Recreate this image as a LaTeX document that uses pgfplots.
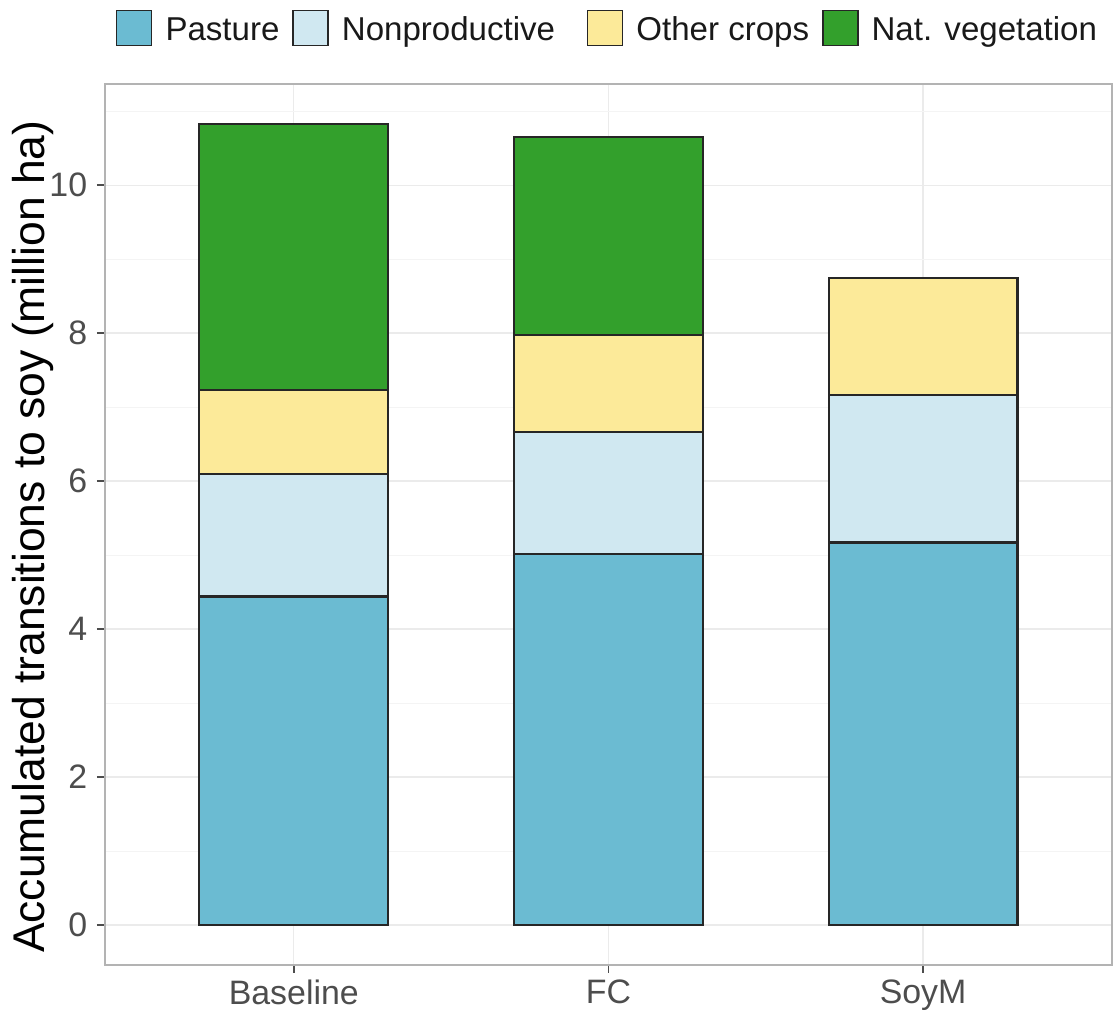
\documentclass[border=0pt]{standalone}
\usepackage{pgfplots}
\pgfplotsset{compat=1.18}
\usepackage{fontspec}
\setmainfont{Liberation Sans}
\definecolor{pasture}{HTML}{6BBBD2}
\definecolor{nonprod}{HTML}{D0E8F1}
\definecolor{othercrops}{HTML}{FCEA99}
\definecolor{natveg}{HTML}{33A02C}
\definecolor{gridc}{HTML}{EBEBEB}
\definecolor{gridm}{HTML}{F4F4F4}
\definecolor{framec}{HTML}{B3B3B3}
\definecolor{tickc}{HTML}{4D4D4D}
\begin{document}
\begin{tikzpicture}
\path (-37.8pt,-15.5pt) rectangle (364.7pt,347.4pt);
\begin{axis}[
  at={(0,0)}, anchor=south west,
  scale only axis, width=362.5pt, height=317.2pt,
  xmin=0.4, xmax=3.6, ymin=-0.54, ymax=11.37,
  ybar stacked, bar width=0.6,
  xtick={1,2,3}, xticklabels={Baseline,FC,SoyM},
  ytick={0,2,4,6,8,10}, minor ytick={1,3,5,7,9,11},
  grid=both,
  major grid style={color=gridc, line width=0.5pt},
  minor grid style={color=gridm, line width=0.3pt},
  axis line style={color=framec, line width=0.8pt},
  tick pos=left, tick align=outside,
  major tick length=2.9pt, minor tick length=0pt,
  major tick style={color=tickc, line width=0.6pt},
  /pgf/number format/assume math mode=true,
  ticklabel style={font=\fontsize{12.2}{14}\selectfont, text=tickc},
  xticklabel style={yshift=1pt},
  ylabel={Accumulated transitions to soy (million ha)},
  ylabel style={at={(axis description cs:-0.0715,0.486)}, anchor=center, font=\fontsize{16}{19}\selectfont, text=black},
  legend style={at={(axis description cs:0.498,1.061)}, anchor=center, draw=none, fill=none,
    legend columns=4, font=\fontsize{11.9}{14}\selectfont, text=black!90,
    nodes={inner xsep=0pt},
    /tikz/every odd column/.append style={column sep=4.7pt},
    /tikz/every even column/.append style={column sep=4.6pt}},
  legend image code/.code={\draw[#1, draw=black!85, line width=0.6pt] (0pt,-5.3pt) rectangle (12.6pt,7.3pt);},
]
\addplot[fill=pasture, draw=black!85, line width=0.75pt] coordinates {(1,4.44) (2,5.02) (3,5.17)};
\addplot[fill=nonprod, draw=black!85, line width=0.75pt] coordinates {(1,1.66) (2,1.64) (3,1.99)};
\addplot[fill=othercrops, draw=black!85, line width=0.75pt] coordinates {(1,1.13) (2,1.31) (3,1.59)};
\addplot[fill=natveg, draw=black!85, line width=0.75pt] coordinates {(1,3.60) (2,2.68)};
\legend{Pasture, Nonproductive\hspace*{6.8pt}, Other crops, Nat. vegetation}
\end{axis}
\end{tikzpicture}
\end{document}
